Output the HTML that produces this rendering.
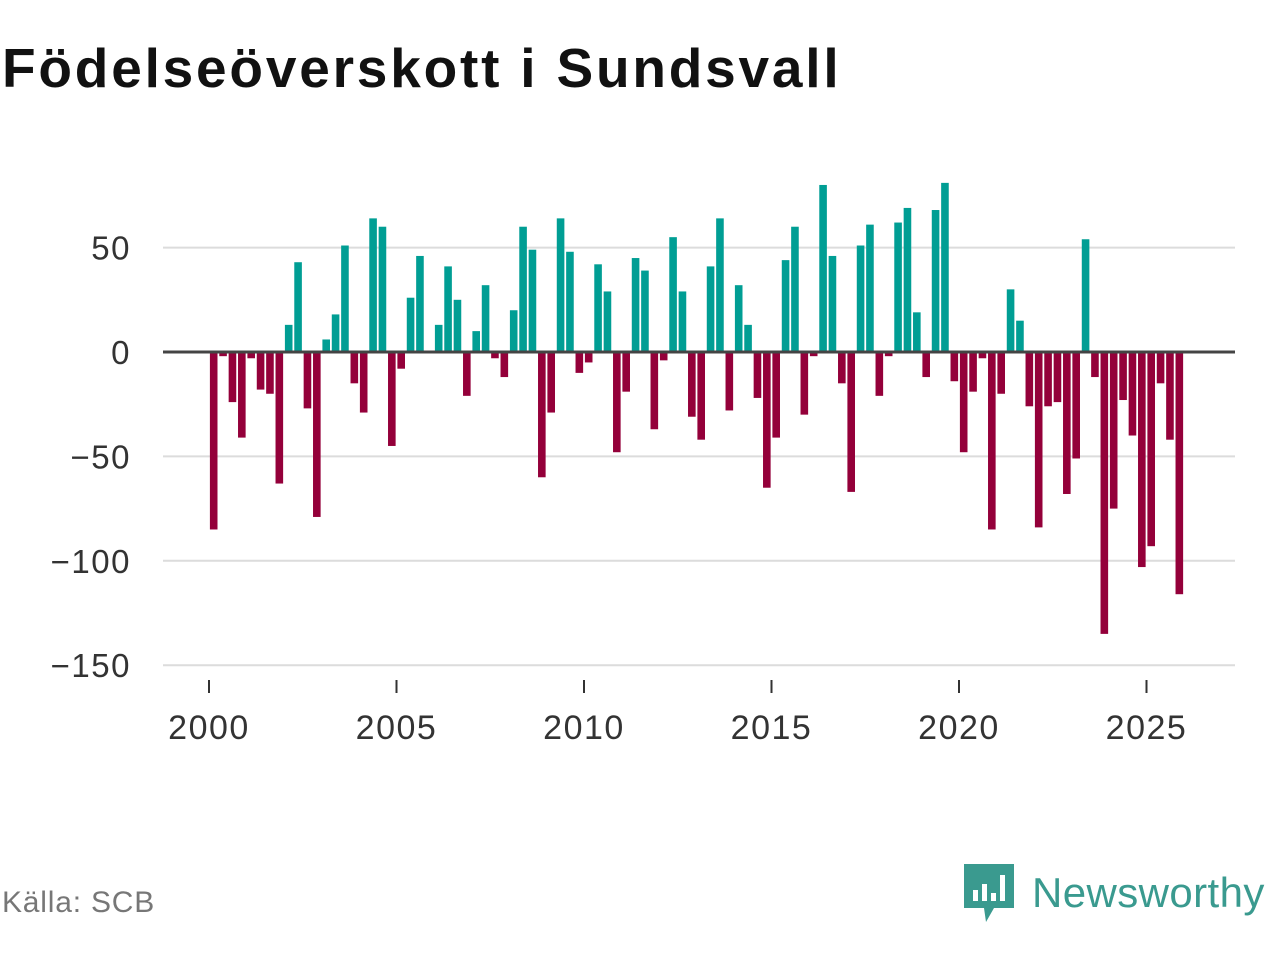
<!DOCTYPE html>
<html><head><meta charset="utf-8"><style>
body{margin:0;background:#fff;width:1280px;height:960px;overflow:hidden;font-family:"Liberation Sans","DejaVu Sans",sans-serif}
#title{position:absolute;left:2px;top:36px;font-size:55px;font-weight:bold;color:#111;letter-spacing:2.8px}
#src{position:absolute;left:2px;top:886px;font-size:30px;color:#777;letter-spacing:0.8px}
#logo{position:absolute;left:964px;top:864px;display:flex;align-items:center}
#logo span{font-size:42px;color:#3a9a8f;margin-left:18px;letter-spacing:0.4px}
</style></head><body>
<div id="title">Födelseöverskott i Sundsvall</div>
<svg id="chart" width="1280" height="960" style="position:absolute;left:0;top:0"></svg>
<div id="src">Källa: SCB</div>
<div id="logo">
<svg width="50" height="58" viewBox="0 0 50 58"><path d="M0 0H50V44H30L22 58L20 44H0Z" fill="#3a9a8f"/><rect x="9" y="26" width="5" height="11" fill="#fff"/><rect x="18" y="20" width="5" height="17" fill="#fff"/><rect x="27" y="29" width="5" height="8" fill="#fff"/><rect x="36" y="11" width="5" height="26" fill="#fff"/></svg>
<span>Newsworthy</span></div>
<script>
const startYear = 2000;
const values = [-85,-2,-24,-41,-3,-18,-20,-63,13,43,-27,-79,6,18,51,-15,-29,64,60,-45,-8,26,46,0,13,41,25,-21,10,32,-3,-12,20,60,49,-60,-29,64,48,-10,-5,42,29,-48,-19,45,39,-37,-4,55,29,-31,-42,41,64,-28,32,13,-22,-65,-41,44,60,-30,-2,80,46,-15,-67,51,61,-21,-2,62,69,19,-12,68,81,-14,-48,-19,-3,-85,-20,30,15,-26,-84,-26,-24,-68,-51,54,-12,-135,-75,-23,-40,-103,-93,-15,-42,-116];
const yTicks = [50,0,-50,-100,-150];
const yTickLabels = ["50","0","\u221250","\u2212100","\u2212150"];
const xTicks = [2000,2005,2010,2015,2020,2025];
const NS="http://www.w3.org/2000/svg", svg=document.getElementById('chart');
const y = v => 352 - v*2.088;
const x = t => 209 + (t-2000)*37.5;
function mk(tag,a){const e=document.createElementNS(NS,tag);for(const k in a)e.setAttribute(k,a[k]);svg.appendChild(e);return e;}
yTicks.forEach((t,i)=>{
  if(t!==0){const g=mk('line',{x1:163,x2:1235,y1:y(t),y2:y(t),stroke:'#dcdcdc','stroke-width':2});
  
  }
  const l=mk('text',{x:131,y:y(t)+12,'text-anchor':'end','font-size':33,'letter-spacing':1.5,fill:'#333','font-family':'Liberation Sans, sans-serif'});
  l.textContent=yTickLabels[i];
  
  
});
values.forEach((v,i)=>{
  const t=startYear+i/4, cx=x(t)+4.7;
  const r=mk('rect',{x:cx-3.8,width:7.6,y:Math.min(y(v),y(0)),height:Math.abs(y(v)-y(0)),fill:v>=0?'#009e94':'#94003a'});
  
  
});
const z=mk('line',{x1:163,x2:1235,y1:y(0),y2:y(0),stroke:'#444','stroke-width':3});


xTicks.forEach(t=>{
  const k=mk('line',{x1:x(t),x2:x(t),y1:680,y2:693,stroke:'#333','stroke-width':2});
  
  
  const l=mk('text',{x:x(t),y:739,'text-anchor':'middle','font-size':34,'letter-spacing':1.5,fill:'#333','font-family':'Liberation Sans, sans-serif'});
  l.textContent=t;
  
  
});
</script>
</body></html>
